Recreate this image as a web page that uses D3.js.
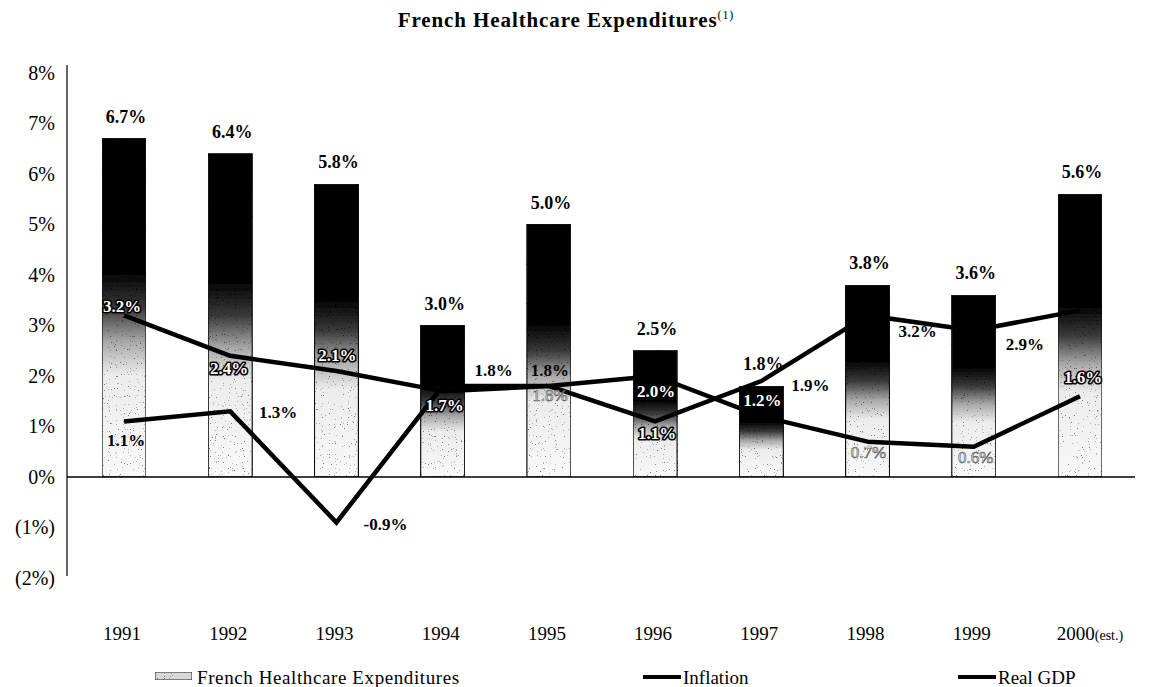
<!DOCTYPE html>
<meta charset="utf-8">
<style>
  body { margin: 0; background: #fff; }
  text { font-family: "Liberation Serif", "DejaVu Serif", serif; }
</style>
<div id="chart"></div>
<script src="https://cdn.jsdelivr.net/npm/d3@7"></script>
<script>

// data
var years = ["1991", "1992", "1993", "1994", "1995", "1996", "1997", "1998", "1999", "2000"];
var healthcare = [6.7, 6.4, 5.8, 3.0, 5.0, 2.5, 1.8, 3.8, 3.6, 5.6];
var inflation = [3.2, 2.4, 2.1, 1.7, 1.8, 2.0, 1.2, 0.7, 0.6, 1.6];
var realGdp = [1.1, 1.3, -0.9, 1.8, 1.8, 1.1, 1.9, 3.2, 2.9, 3.3];
var yTicks = [-2, -1, 0, 1, 2, 3, 4, 5, 6, 7, 8];

// where each line label sits relative to its point, and how it's drawn
// style: "w" = white outlined, "b" = black bold, "g" = ghost, null = no label
var inflLabels = [
  [-2, -9, "w"], [-1, 12, "w"], [1, -16, "w"], [2, 14, "w"], [1, 9, "g"],
  [1, 15, "w"], [1, -16, "w"], [1, 10, "g"], [2, 10, "g"], [3, -19, "w"]
];
var gdpLabels = [
  [2, 19, "b"], [48, 1, "b"], [49, 2, "b"], [51, -16, "b"], [1, -16, "b"],
  [2, 12, "w"], [49, 4, "b"], [50, 16, "b"], [51, 13, "b"], null
];

var width = 1156, height = 687;

var svg = d3.select("#chart").append("svg")
    .attr("width", width)
    .attr("height", height);

svg.append("rect").attr("width", width).attr("height", height).attr("fill", "#fff");

var defs = svg.append("defs");

var grad = defs.append("linearGradient")
    .attr("id", "barGrad")
    .attr("x1", 0).attr("y1", 0).attr("x2", 0).attr("y2", 1);
[[0, "#000"], [0.4, "#050505"], [0.5, "#3a3a3a"], [0.6, "#a8a8a8"], [0.7, "#ececec"], [1, "#f8f8f8"]]
  .forEach(function (s) {
    grad.append("stop").attr("offset", s[0]).attr("stop-color", s[1]);
  });

// speckle noise on top of the gradient
var filt = defs.append("filter").attr("id", "speckle")
    .attr("x", 0).attr("y", 0).attr("width", 1).attr("height", 1);
filt.append("feTurbulence")
    .attr("type", "fractalNoise").attr("baseFrequency", 0.85)
    .attr("numOctaves", 2).attr("seed", 7).attr("result", "noise");
filt.append("feColorMatrix").attr("in", "noise").attr("type", "matrix")
    .attr("values", "0 0 0 0 0  0 0 0 0 0  0 0 0 0 0  1.6 0 0 0 -0.3")
    .attr("result", "a");
var ct = filt.append("feComponentTransfer").attr("in", "a").attr("result", "dots");
ct.append("feFuncA").attr("type", "discrete").attr("tableValues", "0 0 0 0 0 0 0 0 0 0 0.5 0.75");
filt.append("feComposite").attr("in", "dots").attr("in2", "SourceGraphic")
    .attr("operator", "in").attr("result", "clipped");
var merge = filt.append("feMerge");
merge.append("feMergeNode").attr("in", "SourceGraphic");
merge.append("feMergeNode").attr("in", "clipped");

var x = d3.scalePoint().domain(years).range([124, 1080]);
var y = d3.scaleLinear().domain([-2, 8]).range([578, 73]);
var barW = 44;

// title
var title = svg.append("text")
    .attr("x", 566).attr("y", 27)
    .attr("text-anchor", "middle")
    .attr("font-size", 21).attr("font-weight", "bold")
    .attr("letter-spacing", 0.9)
    .text("French Healthcare Expenditures");
title.append("tspan").attr("font-size", 12).attr("font-weight", "normal")
    .attr("dy", -8).text("(1)");

// y axis
var yAxis = d3.axisLeft(y)
    .tickValues(yTicks)
    .tickSize(0)
    .tickPadding(12)
    .tickFormat(function (d) { return d < 0 ? "(" + (-d) + "%)" : d + "%"; });

var gy = svg.append("g")
    .attr("transform", "translate(67,0)")
    .call(yAxis);
gy.select(".domain").attr("stroke", "#000").attr("stroke-width", 1.2)
    .attr("d", "M0," + (y(8) - 8) + "V" + (y(-2) - 2));
gy.selectAll("text")
    .attr("font-size", 20)
    .attr("font-family", "Liberation Serif")
    .attr("fill", "#000");

// bars
svg.append("g").selectAll("rect")
    .data(healthcare)
    .join("rect")
    .attr("x", function (d, i) { return x(years[i]) - barW / 2; })
    .attr("y", function (d) { return y(d); })
    .attr("width", barW)
    .attr("height", function (d) { return y(0) - y(d); })
    .attr("fill", "url(#barGrad)")
    .attr("filter", "url(#speckle)")
    .attr("stroke", "#111")
    .attr("stroke-width", 1.2);

// zero line
svg.append("line")
    .attr("x1", 67).attr("x2", 1135)
    .attr("y1", y(0)).attr("y2", y(0))
    .attr("stroke", "#000").attr("stroke-width", 1.5);

// bar value labels
svg.append("g").selectAll("text")
    .data(healthcare)
    .join("text")
    .attr("x", function (d, i) { return x(years[i]) + 2; })
    .attr("y", function (d) { return y(d) - 16; })
    .attr("text-anchor", "middle")
    .attr("font-size", 18).attr("font-weight", "bold")
    .text(function (d) { return d.toFixed(1) + "%"; });

// lines
var line = d3.line()
    .x(function (d, i) { return x(years[i]); })
    .y(function (d) { return y(d); });

svg.append("path").datum(inflation)
    .attr("d", line)
    .attr("fill", "none").attr("stroke", "#000").attr("stroke-width", 4.5)
    .attr("stroke-linejoin", "round");

svg.append("path").datum(realGdp)
    .attr("d", line)
    .attr("fill", "none").attr("stroke", "#000").attr("stroke-width", 4.5)
    .attr("stroke-linejoin", "miter");

function drawLabels(values, placement) {
  var g = svg.append("g");
  values.forEach(function (v, i) {
    var p = placement[i];
    if (!p) return;
    var t = g.append("text")
        .attr("x", x(years[i]) + p[0])
        .attr("y", y(v) + p[1])
        .attr("dy", "0.35em")
        .attr("text-anchor", "middle")
        .attr("font-size", 17).attr("font-weight", "bold")
        .text(v.toFixed(1) + "%");
    if (p[2] === "w") {
      t.attr("fill", "#fff").attr("stroke", "#000").attr("stroke-width", 3.2)
       .attr("paint-order", "stroke").attr("stroke-linejoin", "round");
    } else if (p[2] === "g") {
      t.attr("fill", "#f4f4f4").attr("stroke", "#666").attr("stroke-width", 0.7)
       .attr("font-weight", "normal");
    } else {
      t.attr("fill", "#000");
    }
  });
}
drawLabels(inflation, inflLabels);
drawLabels(realGdp, gdpLabels);

// year labels
var yearG = svg.append("g");
years.forEach(function (yr, i) {
  var t = yearG.append("text")
      .attr("x", x(yr) - 2)
      .attr("y", 640)
      .attr("text-anchor", "middle")
      .attr("font-size", 19)
      .text(yr);
  if (i === years.length - 1) {
    t.attr("x", x(yr) + 10);
    t.append("tspan").attr("font-size", 14).text("(est.)");
  }
});

// legend
var ly = 677;
var leg = svg.append("g");
leg.append("rect")
    .attr("x", 155).attr("y", ly - 5).attr("width", 37).attr("height", 8)
    .attr("fill", "#d8d8d8").attr("stroke", "#222").attr("stroke-width", 1)
    .attr("filter", "url(#speckle)");
leg.append("text").attr("x", 197).attr("y", ly).attr("dy", "0.35em")
    .attr("font-size", 19).attr("letter-spacing", 0.6)
    .text("French Healthcare Expenditures");

leg.append("line").attr("x1", 643).attr("x2", 681).attr("y1", ly).attr("y2", ly)
    .attr("stroke", "#000").attr("stroke-width", 4);
leg.append("text").attr("x", 683).attr("y", ly).attr("dy", "0.35em")
    .attr("font-size", 19).text("Inflation");

leg.append("line").attr("x1", 958).attr("x2", 996).attr("y1", ly).attr("y2", ly)
    .attr("stroke", "#000").attr("stroke-width", 4);
leg.append("text").attr("x", 998).attr("y", ly).attr("dy", "0.35em")
    .attr("font-size", 19).text("Real GDP");

</script>
